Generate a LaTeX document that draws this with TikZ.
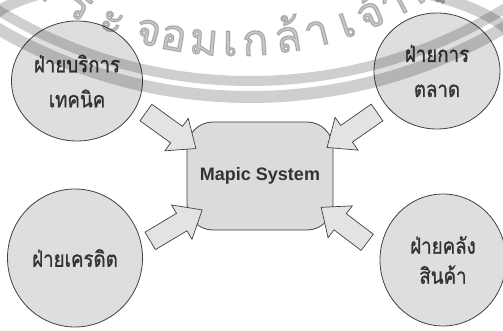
\documentclass[tikz,border=0pt]{standalone}
\usepackage{graphicx}
\usepackage{fontspec}
\setmainfont{Liberation Sans}
\newfontfamily\thai[Script=Thai, FakeBold=1.2]{Loma}
\newfontfamily\thaiseal[Script=Thai, FakeBold=2.5]{Loma}
\usetikzlibrary{shapes.geometric,shapes.arrows,calc}

% condensed Thai line
\newcommand\narrow[1]{\scalebox{0.85}[1]{#1}}

% fat block arrow from a tail coordinate to a tip coordinate
\newcommand\fatarrow[2]{%
  \path let \p1=($(#2)-(#1)$), \n1={veclen(\x1,\y1)}, \n2={atan2(\y1,\x1)} in
    ($(#1)!0.5!(#2)$) node[fat, minimum height=\n1, rotate=\n2] {};}

\begin{document}
\begin{tikzpicture}[x=1pt,y=-1pt,
  dept/.style={ellipse, draw=black!75, line width=0.8pt, fill=black!13,
    inner sep=0pt, font=\thai\fontsize{22}{35}\selectfont, text=black!80, align=center},
  core/.style={rectangle, rounded corners=26pt, draw=black!75, line width=0.8pt,
    fill=black!14, minimum width=146pt, minimum height=108pt,
    font=\bfseries\fontsize{18}{20}\selectfont, text=black!80},
  fat/.style={single arrow, draw=black!75, line width=0.7pt, fill=black!11,
    inner sep=7pt, minimum width=40pt, single arrow tip angle=80},
  wmband/.style={draw=black, draw opacity=0.19},
  wmglyph/.style={text=black, text opacity=0.22, anchor=base, inner sep=0pt,
    font=\thaiseal\fontsize{44}{44}\selectfont}
]
\useasboundingbox (0,0) rectangle (503,331);

% departments
\node[dept, minimum width=131pt, minimum height=120pt] (tech) at (77,81)
  {\narrow{ฝ่ายบริการ}\\\narrow{เทคนิค}};
\node[dept, minimum width=126pt, minimum height=116pt] (mkt) at (437,71)
  {\narrow{ฝ่ายการ}\\\narrow{ตลาด}};
\node[dept, minimum width=135pt, minimum height=138pt] (credit) at (75,258)
  {\narrow{ฝ่ายเครดิต}};
\node[dept, minimum width=126pt, minimum height=132pt, font=\thai\fontsize{22}{30}\selectfont]
  (store) at (443,260) {\narrow{ฝ่ายคลัง}\\\narrow{สินค้า}};

% central system
\node[core] (sys) at (260,176) {Mapic System};

% arrow tails and tips
\coordinate (t1) at (141,109); \coordinate (h1) at (191,145);
\coordinate (t2) at (382,109); \coordinate (h2) at (332,144);
\coordinate (t3) at (145,244); \coordinate (h3) at (197,213);
\coordinate (t4) at (372,246); \coordinate (h4) at (326,211);
\fatarrow{t1}{h1}
\fatarrow{t2}{h2}
\fatarrow{t3}{h3}
\fatarrow{t4}{h4}

% seal watermark
\begin{scope}
  \clip (0,0) rectangle (503,331);
  \draw[wmband, line width=10pt] (250,-402) circle[radius=483];
  \draw[wmband, line width=12pt] (250,-402) circle[radius=499];
  \draw[wmband, line width=11pt] (-5,14) .. controls (60,-40) and (440,-45) .. (512,34);
  \foreach \a/\g in {-34/พ, -27/ร, -20.9/ะ, -14.6/จ, -10.3/อ, -5.2/ม, -0.8/เ, 3.4/ก,
                     8.9/ล้, 13.8/า, 19/เ, 23.3/จ้, 27.6/า, 33/คุ, 39.5/ณ} {
    \pgfmathsetmacro\px{235+356*sin(\a)}
    \pgfmathsetmacro\py{-300+356*cos(\a)}
    \node[wmglyph, rotate=\a] at (\px,\py) {\g};
  }
\end{scope}
\end{tikzpicture}
\end{document}
